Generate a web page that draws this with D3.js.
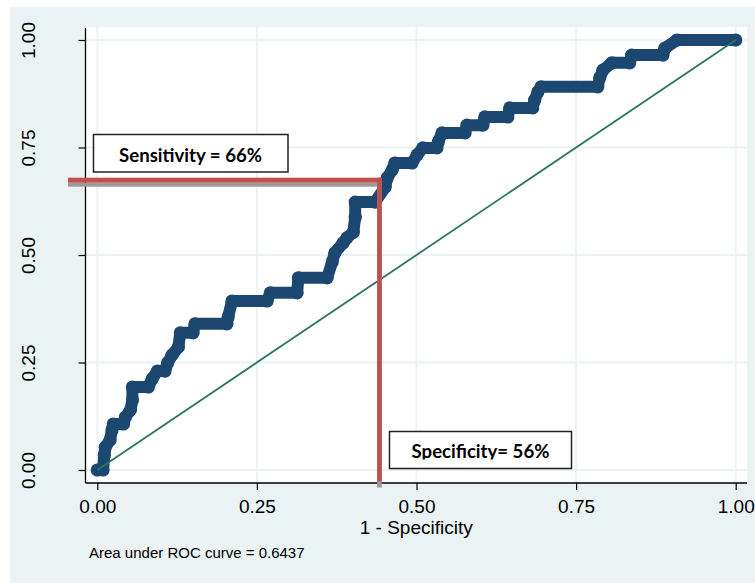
<!DOCTYPE html>
<html>
<head>
<meta charset="utf-8">
<script src="https://cdnjs.cloudflare.com/ajax/libs/d3/7.8.5/d3.min.js"></script>
<style>
  body { margin: 0; background: #fff; }
  svg { display: block; }
</style>
</head>
<body>
<svg id="chart" width="755" height="583"></svg>
<script>
// ROC curve vertices (1 - specificity, sensitivity)
var fprValues = [0, 0.009, 0.011, 0.0125, 0.020, 0.023, 0.025, 0.041, 0.044, 0.052, 0.055, 0.055,
  0.080, 0.086, 0.094, 0.106, 0.110, 0.117, 0.127, 0.130, 0.150, 0.153, 0.203, 0.205, 0.211,
  0.266, 0.271, 0.313, 0.315, 0.360, 0.368, 0.372, 0.385, 0.391, 0.401, 0.404, 0.404, 0.435,
  0.451, 0.454, 0.462, 0.466, 0.493, 0.501, 0.510, 0.532, 0.534, 0.540, 0.576, 0.579, 0.604,
  0.607, 0.643, 0.646, 0.682, 0.685, 0.690, 0.695, 0.784, 0.787, 0.792, 0.806, 0.834, 0.837,
  0.886, 0.889, 0.908, 1.0];
var tprValues = [0, 0, 0.035, 0.053, 0.070, 0.093, 0.107, 0.107, 0.123, 0.140, 0.163, 0.193,
  0.193, 0.212, 0.230, 0.230, 0.249, 0.267, 0.286, 0.319, 0.319, 0.340, 0.340, 0.356, 0.393,
  0.393, 0.412, 0.412, 0.447, 0.447, 0.484, 0.505, 0.528, 0.540, 0.553, 0.588, 0.623, 0.623,
  0.658, 0.679, 0.698, 0.714, 0.714, 0.733, 0.749, 0.749, 0.763, 0.784, 0.784, 0.802, 0.802,
  0.821, 0.821, 0.842, 0.842, 0.860, 0.879, 0.891, 0.891, 0.912, 0.930, 0.947, 0.947, 0.965,
  0.965, 0.981, 1.0, 1.0];

var tickValues = [0, 0.25, 0.5, 0.75, 1];
var xTitle = "1 - Specificity";
var aucNote = "Area under ROC curve = 0.6437";

// cut-off marked on the chart
var cutFpr = 0.442, cutTpr = 0.674;
var sensLabel = "Sensitivity = 66%";
var specLabel = "Specificity= 56%";

var points = fprValues.map(function(d, i) { return [d, tprValues[i]]; });

var svg = d3.select('#chart');
var bg = "#eaf2f3";

var x = d3.scaleLinear().domain([0, 1]).range([97.3, 735.7]);
var y = d3.scaleLinear().domain([0, 1]).range([470, 40]);

var plotL = 85.5, plotR = 747, plotT = 27, plotB = 483;

svg.append('rect')
  .attr('x', 10).attr('y', 7).attr('width', 745).attr('height', 576)
  .style('fill', bg);

svg.append('rect')
  .attr('x', plotL).attr('y', plotT).attr('width', plotR - plotL).attr('height', plotB - plotT)
  .style('fill', 'white');

/* GRID */
var grid = svg.append('g');
grid.selectAll('line.v')
  .data(tickValues)
  .enter().append('line')
  .attr('x1', d => x(d)).attr('x2', d => x(d))
  .attr('y1', plotT).attr('y2', plotB)
  .style('stroke', bg).style('stroke-width', 2);
grid.selectAll('line.h')
  .data(tickValues)
  .enter().append('line')
  .attr('y1', d => y(d)).attr('y2', d => y(d))
  .attr('x1', plotL).attr('x2', plotR)
  .style('stroke', bg).style('stroke-width', 2);

/* AXES */
var fmt = d3.format('.2f');

var yAxis = svg.append('g')
  .attr('transform', 'translate(' + plotL + ',0)')
  .call(d3.axisLeft(y).tickValues(tickValues).tickFormat(fmt).tickSize(7).tickSizeOuter(0));
yAxis.select('.domain').remove();
yAxis.selectAll('text')
  .attr('transform', 'rotate(-90)')
  .attr('x', 0).attr('y', -50.2).attr('dy', 0)
  .style('text-anchor', 'middle');

var xAxis = svg.append('g')
  .attr('transform', 'translate(0,' + plotB + ')')
  .call(d3.axisBottom(x).tickValues(tickValues).tickFormat(fmt).tickSize(7).tickSizeOuter(0));
xAxis.select('.domain').remove();
xAxis.selectAll('text').attr('y', 30.3).attr('dy', 0);

svg.selectAll('.tick line').style('stroke', '#000').style('stroke-width', 1.2);
svg.selectAll('.tick text')
  .style('font-family', '"Liberation Sans", Arial, sans-serif')
  .style('font-size', '19px')
  .style('fill', '#000');

svg.append('line')
  .attr('x1', plotL).attr('x2', plotL).attr('y1', plotT + 1).attr('y2', plotB)
  .style('stroke', '#000').style('stroke-width', 1.3);
svg.append('line')
  .attr('x1', plotL).attr('x2', plotR).attr('y1', plotB).attr('y2', plotB)
  .style('stroke', '#000').style('stroke-width', 1.3);

svg.append('text')
  .attr('x', (plotL + plotR) / 2).attr('y', 533.5)
  .style('text-anchor', 'middle')
  .style('font-family', '"Liberation Sans", Arial, sans-serif')
  .style('font-size', '19px')
  .text(xTitle);

svg.append('text')
  .attr('x', 89).attr('y', 558)
  .style('font-family', '"Liberation Sans", Arial, sans-serif')
  .style('font-size', '15px')
  .text(aucNote);

/* ROC CURVE */
var curveColor = "#1b4770";
var line = d3.line().x(d => x(d[0])).y(d => y(d[1]));

svg.append('path')
  .datum(points)
  .attr('d', line)
  .style('fill', 'none')
  .style('stroke', curveColor)
  .style('stroke-width', 12)
  .style('stroke-linejoin', 'round')
  .style('stroke-linecap', 'round');

svg.selectAll('circle.pt')
  .data(points)
  .enter().append('circle')
  .classed('pt', true)
  .attr('cx', d => x(d[0]))
  .attr('cy', d => y(d[1]))
  .attr('r', 6.6)
  .style('fill', curveColor);

// reference diagonal
svg.append('line')
  .attr('x1', x(0)).attr('y1', y(0))
  .attr('x2', x(1)).attr('y2', y(1))
  .style('stroke', '#2e7563')
  .style('stroke-width', 1.8);

/* CUT-OFF LINES */
var red = "#c0504d";
var hx0 = 68, vx = x(cutFpr), hy = y(cutTpr);

svg.append('rect')
  .attr('x', hx0).attr('y', hy + 2.5).attr('width', vx - hx0).attr('height', 4)
  .style('fill', '#9a9a9a');
svg.append('rect')
  .attr('x', vx - 2.3).attr('y', hy).attr('width', 4.6).attr('height', 487.5 - hy)
  .style('fill', '#9a9a9a');
svg.append('rect')
  .attr('x', hx0).attr('y', hy - 2.5).attr('width', vx + 2.3 - hx0).attr('height', 5)
  .style('fill', red);
svg.append('rect')
  .attr('x', vx - 2.3).attr('y', hy - 2.5).attr('width', 4.6).attr('height', 484 - hy)
  .style('fill', red);

/* LABEL BOXES */
function labelBox(bx, by, bw, bh, label, tx, ty, clipId) {
  var g = svg.append('g');
  g.append('rect')
    .attr('x', bx).attr('y', by).attr('width', bw).attr('height', bh)
    .style('fill', 'white')
    .style('stroke', '#222')
    .style('stroke-width', 1.5);
  var t = g.append('text')
    .attr('x', tx).attr('y', ty)
    .style('text-anchor', 'middle')
    .style('font-family', 'Lato, "Open Sans", sans-serif')
    .style('font-weight', 'bold')
    .style('font-size', '18.6px')
    .text(label);
  // the second label has its descenders cut off in the original
  if (clipId) {
    g.append('clipPath').attr('id', clipId)
      .append('rect')
      .attr('x', bx).attr('y', by).attr('width', bw).attr('height', bh - 9);
    t.attr('clip-path', 'url(#' + clipId + ')');
  }
}

labelBox(93.5, 134.5, 194.5, 37.5, sensLabel, 190.5, 161.7, null);
labelBox(389.5, 431.5, 182, 37, specLabel, 480.5, 458.3, 'clipSpec');
</script>
</body>
</html>
